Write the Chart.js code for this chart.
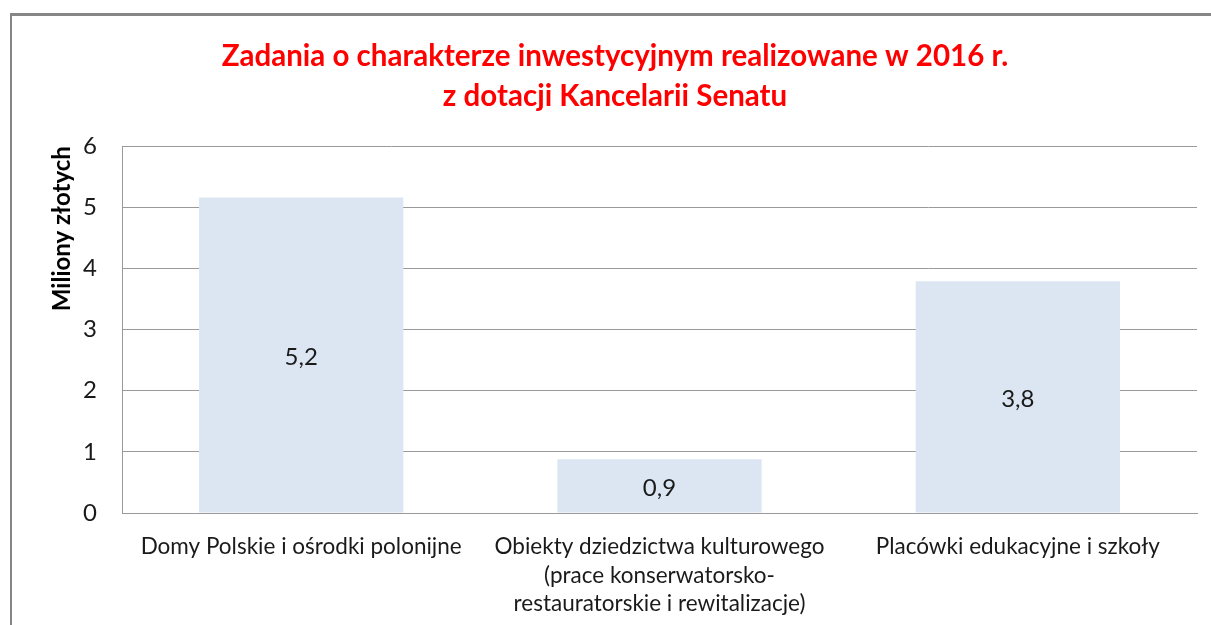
<!DOCTYPE html>
<html>
<head>
<meta charset="utf-8">
<script src="https://cdn.jsdelivr.net/npm/chart.js@4/dist/chart.umd.min.js"></script>
<style>
  html, body { margin: 0; padding: 0; background: #ffffff; overflow: hidden; }
  #frame { position: absolute; left: 10px; top: 13px; width: 1400px; height: 800px;
           border-left: 2px solid #868686; border-top: 3px solid #868686; }
  #wrap { position: absolute; left: 0; top: 0; width: 1211px; height: 625px; }
</style>
</head>
<body>
<div id="frame"></div>
<div id="wrap"><canvas id="c" width="1211" height="625"></canvas></div>
<script>
const titleLines = ['Zadania o charakterze inwestycyjnym realizowane w 2016 r.', 'z dotacji Kancelarii Senatu'];
const yAxisTitle = 'Miliony złotych';
const categories = [
  ['Domy Polskie i ośrodki polonijne'],
  ['Obiekty dziedzictwa kulturowego', '(prace konserwatorsko-', 'restauratorskie i rewitalizacje)'],
  ['Placówki edukacyjne i szkoły']
];
const values = [5.16, 0.88, 3.79];
const valueLabels = ['5,2', '0,9', '3,8'];
const yTicks = [0, 1, 2, 3, 4, 5, 6];

const FONT = 'Lato, "Open Sans", sans-serif';

const dataLabels = {
  id: 'dataLabels',
  afterDatasetsDraw(chart) {
    const ctx = chart.ctx;
    const meta = chart.getDatasetMeta(0);
    ctx.save();
    ctx.font = '24px ' + FONT;
    ctx.fillStyle = '#1a1a1a';
    ctx.textAlign = 'center';
    ctx.textBaseline = 'middle';
    meta.data.forEach((bar, i) => {
      const mid = (bar.y + bar.base) / 2;
      ctx.fillText(valueLabels[i], bar.x, mid + 2);
    });
    ctx.restore();
  }
};

new Chart(document.getElementById('c'), {
  type: 'bar',
  data: {
    labels: categories,
    datasets: [{
      data: values,
      backgroundColor: '#dce6f2',
      borderWidth: 0,
      barPercentage: 0.57,
      categoryPercentage: 1.0
    }]
  },
  options: {
    responsive: false,
    animation: false,
    layout: { padding: { left: 33, right: 14, top: 0, bottom: 0 } },
    plugins: {
      legend: { display: false },
      tooltip: { enabled: false },
      title: {
        display: true,
        text: titleLines,
        color: '#ff0000',
        font: { family: FONT, size: 29.5, weight: 'bold', lineHeight: 1.36 },
        padding: { top: 36, bottom: 30 }
      }
    },
    scales: {
      x: {
        grid: { display: false, drawTicks: false },
        border: { display: true, color: '#9a9a9a', width: 1 },
        ticks: {
          color: '#1a1a1a',
          font: { family: FONT, size: 22.5, lineHeight: 1.26 },
          padding: 20,
          maxRotation: 0,
          autoSkip: false
        },
        afterFit(scale) { scale.height = 112; }
      },
      y: {
        min: 0, max: 6,
        afterBuildTicks(scale) { scale.ticks = yTicks.map(v => ({ value: v })); },
        grid: { color: '#9a9a9a', lineWidth: 1, drawTicks: false },
        border: { display: true, color: '#9a9a9a', width: 1 },
        ticks: {
          color: '#1a1a1a',
          font: { family: FONT, size: 24 },
          padding: 25
        },
        title: {
          display: true,
          text: yAxisTitle,
          align: 'end',
          color: '#000000',
          font: { family: FONT, size: 24, weight: 'bold', lineHeight: 1.2 },
          padding: { top: 15, bottom: 0 }
        },
        afterFit(scale) { scale.width = 89; }
      }
    }
  },
  plugins: [dataLabels]
});
</script>
</body>
</html>
